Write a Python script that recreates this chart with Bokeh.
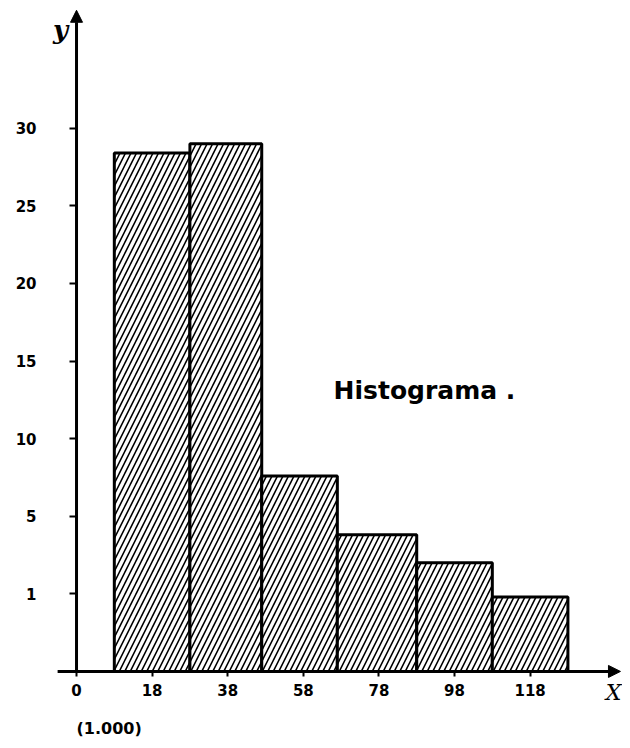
from bokeh.plotting import figure
from bokeh.models import Arrow, NormalHead, Label, FixedTicker
from bokeh.embed import file_html
from bokeh.resources import INLINE

# ---- data ----
bin_edges = [10, 30, 49, 69, 90, 110, 130]
bar_heights = [33.4, 34.0, 12.6, 8.8, 7.0, 4.8]

x_tick_pos = [0, 20, 40, 60, 80, 100, 120]
x_tick_labels = ["0", "18", "38", "58", "78", "98", "118"]

y_tick_pos = [5, 10, 15, 20, 25, 30, 35]
y_tick_labels = ["1", "5", "10", "15", "20", "25", "30"]

FONT = "DejaVu Sans"

p = figure(width=622, height=740, output_backend="svg", toolbar_location=None,
           x_range=(-20.11, 144.44), y_range=(-4.45, 43.23),
           min_border_left=0, min_border_right=0, min_border_top=0, min_border_bottom=0)
p.xgrid.visible = False
p.ygrid.visible = False
p.outline_line_color = None
p.background_fill_color = "white"
p.border_fill_color = "white"

p.quad(left=bin_edges[:-1], right=bin_edges[1:], bottom=0, top=bar_heights,
       fill_color="white", line_color="black", line_width=3,
       hatch_pattern="/", hatch_color="black", hatch_scale=11, hatch_weight=1.6)

# axes: ticks and labels from Bokeh (placed at the origin), lines drawn as arrows
xa = p.xaxis[0]
xa.fixed_location = 0
xa.ticker = FixedTicker(ticks=x_tick_pos)
xa.major_label_overrides = dict(zip(x_tick_pos, x_tick_labels))
xa.axis_line_color = None
xa.minor_tick_line_color = None
xa.major_tick_out = 5
xa.major_tick_in = 0
xa.major_tick_line_width = 2
xa.major_label_standoff = 8
xa.major_label_text_font = FONT
xa.major_label_text_font_style = "bold"
xa.major_label_text_font_size = "15px"
xa.major_label_text_color = "black"

ya = p.yaxis[0]
ya.fixed_location = 0
ya.ticker = FixedTicker(ticks=y_tick_pos)
ya.major_label_overrides = dict(zip(y_tick_pos, y_tick_labels))
ya.axis_line_color = None
ya.minor_tick_line_color = None
ya.major_tick_out = 7
ya.major_tick_in = 0
ya.major_tick_line_width = 2
ya.major_label_standoff = 33
ya.major_label_text_font = FONT
ya.major_label_text_font_style = "bold"
ya.major_label_text_font_size = "15px"
ya.major_label_text_color = "black"

p.add_layout(Arrow(x_start=-5, y_start=0, x_end=143.9, y_end=0, line_width=3, line_color="black",
                   end=NormalHead(size=12, fill_color="black", line_color="black")))
p.add_layout(Arrow(x_start=0, y_start=0, x_end=0, y_end=42.6, line_width=3, line_color="black",
                   end=NormalHead(size=12, fill_color="black", line_color="black")))

p.add_layout(Label(x=-4.2, y=41.3, text="y", text_font="DejaVu Serif", text_font_style="bold italic",
                   text_font_size="26px", text_align="center", text_baseline="middle", text_color="black"))
p.add_layout(Label(x=142.1, y=-1.35, text="X", text_font="DejaVu Serif", text_font_style="italic",
                   text_font_size="22px", text_align="center", text_baseline="middle", text_color="black"))
p.add_layout(Label(x=0, y=-3.65, text="(1.000)", text_font=FONT, text_font_style="bold",
                   text_font_size="16px", text_align="left", text_baseline="middle", text_color="black"))
p.add_layout(Label(x=68, y=18.1, text="Histograma .", text_font=FONT, text_font_style="bold",
                   text_font_size="25px", text_align="left", text_baseline="alphabetic", text_color="black"))

open("out.html", "w").write(file_html(p, INLINE))
